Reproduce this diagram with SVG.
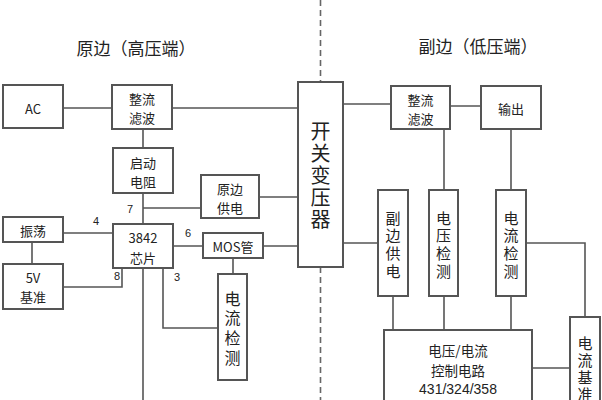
<svg xmlns="http://www.w3.org/2000/svg" width="602" height="400" viewBox="0 0 602 400">
<style>
.b{fill:#fff;stroke:#555;stroke-width:2}
.l{fill:none;stroke:#555;stroke-width:1.6}
.d{fill:none;stroke:#666;stroke-width:1.6;stroke-dasharray:6,4}
text{font-family:"Noto Sans CJK SC","Liberation Sans",sans-serif;fill:#222;text-anchor:middle;dominant-baseline:central}
.t{font-size:17px}
.s{font-size:13px}
.v{font-size:15px;writing-mode:vertical-rl;text-orientation:upright;letter-spacing:2.7px}
.n{font-size:11px;font-family:"Liberation Sans",sans-serif}
</style>
<rect width="602" height="400" fill="#fff"/>
<text class="t" x="136" y="47">原边（高压端）</text>
<text class="t" x="478" y="45">副边（低压端）</text>
<g id="connectors">
<path class="d" d="M320.5 0V82M320.5 267V400"/>
<path class="l" d="M63 108H112M172 108H298M143 129V148M143 193V224M143 208H201M259 197H298M63 233H113M32 242V264M63 287H122V268M172 246H203M263 246H298M233 258V274M163 268V328H218M143 268V400"/>
<path class="l" d="M343 104H391M450 106H481M444 129V190M511 129V190M343 243H378M526 243H585V317M393 296V330M444 296V330M511 296V330M532 368H570"/>
</g>
<g id="ac"><rect class="b" x="3" y="85" width="60" height="43"/><text class="s" x="33" y="108">AC</text></g>
<g id="rect1"><rect class="b" x="112" y="85" width="60" height="44"/><text class="s" x="142" y="98">整流</text><text class="s" x="142" y="117">滤波</text></g>
<g id="startres"><rect class="b" x="113" y="148" width="60" height="45"/><text class="s" x="143" y="162">启动</text><text class="s" x="143" y="181">电阻</text></g>
<g id="pripower"><rect class="b" x="201" y="175" width="58" height="43"/><text class="s" x="230" y="188">原边</text><text class="s" x="230" y="207">供电</text></g>
<g id="osc"><rect class="b" x="3" y="217" width="60" height="25"/><text class="s" x="33" y="230">振荡</text></g>
<g id="chip"><rect class="b" x="113" y="224" width="60" height="44"/><text class="s" x="143" y="237">3842</text><text class="s" x="143" y="257">芯片</text></g>
<g id="ref5v"><rect class="b" x="3" y="264" width="60" height="45"/><text class="s" x="33" y="277">5V</text><text class="s" x="33" y="296">基准</text></g>
<g id="mos"><rect class="b" x="203" y="233" width="60" height="25"/><text class="s" x="233" y="246">MOS管</text></g>
<g id="cs1"><rect class="b" x="218" y="274" width="29" height="106"/><text class="v" x="232.5" y="330" style="font-size:16px;letter-spacing:3.7px">电流检测</text></g>
<g id="labels"><text class="n" x="96" y="221">4</text><text class="n" x="130" y="209">7</text><text class="n" x="188" y="233">6</text><text class="n" x="117" y="276">8</text><text class="n" x="177" y="277">3</text><text class="n" x="162" y="406">4/3</text></g>
<g id="xfmr"><rect class="b" x="298" y="82" width="45" height="185"/><text class="v" x="320.5" y="176" style="font-size:20px;letter-spacing:2px">开关变压器</text></g>
<g id="rect2"><rect class="b" x="391" y="86" width="59" height="43"/><text class="s" x="420.5" y="99">整流</text><text class="s" x="420.5" y="118">滤波</text></g>
<g id="out"><rect class="b" x="481" y="86" width="60" height="43"/><text class="s" x="511" y="108">输出</text></g>
<g id="secpower"><rect class="b" x="378" y="190" width="30" height="106"/><text class="v" x="393" y="246">副边供电</text></g>
<g id="vs"><rect class="b" x="429" y="190" width="29" height="106"/><text class="v" x="443.5" y="246">电压检测</text></g>
<g id="cs2"><rect class="b" x="496" y="190" width="30" height="106"/><text class="v" x="511" y="246">电流检测</text></g>
<g id="ctrl"><rect class="b" x="384" y="330" width="148" height="80"/><text x="458" y="350" style="font-size:13.5px"><tspan x="458" y="350">电压/电流</tspan><tspan x="458" y="370">控制电路</tspan><tspan x="458" y="389" style="font-family:'Liberation Sans',sans-serif;font-size:14px">431/324/358</tspan></text></g>
<g id="cref"><rect class="b" x="570" y="317" width="30" height="93"/><text class="v" x="585" y="370" style="letter-spacing:2.3px">电流基准</text></g>
</svg>
